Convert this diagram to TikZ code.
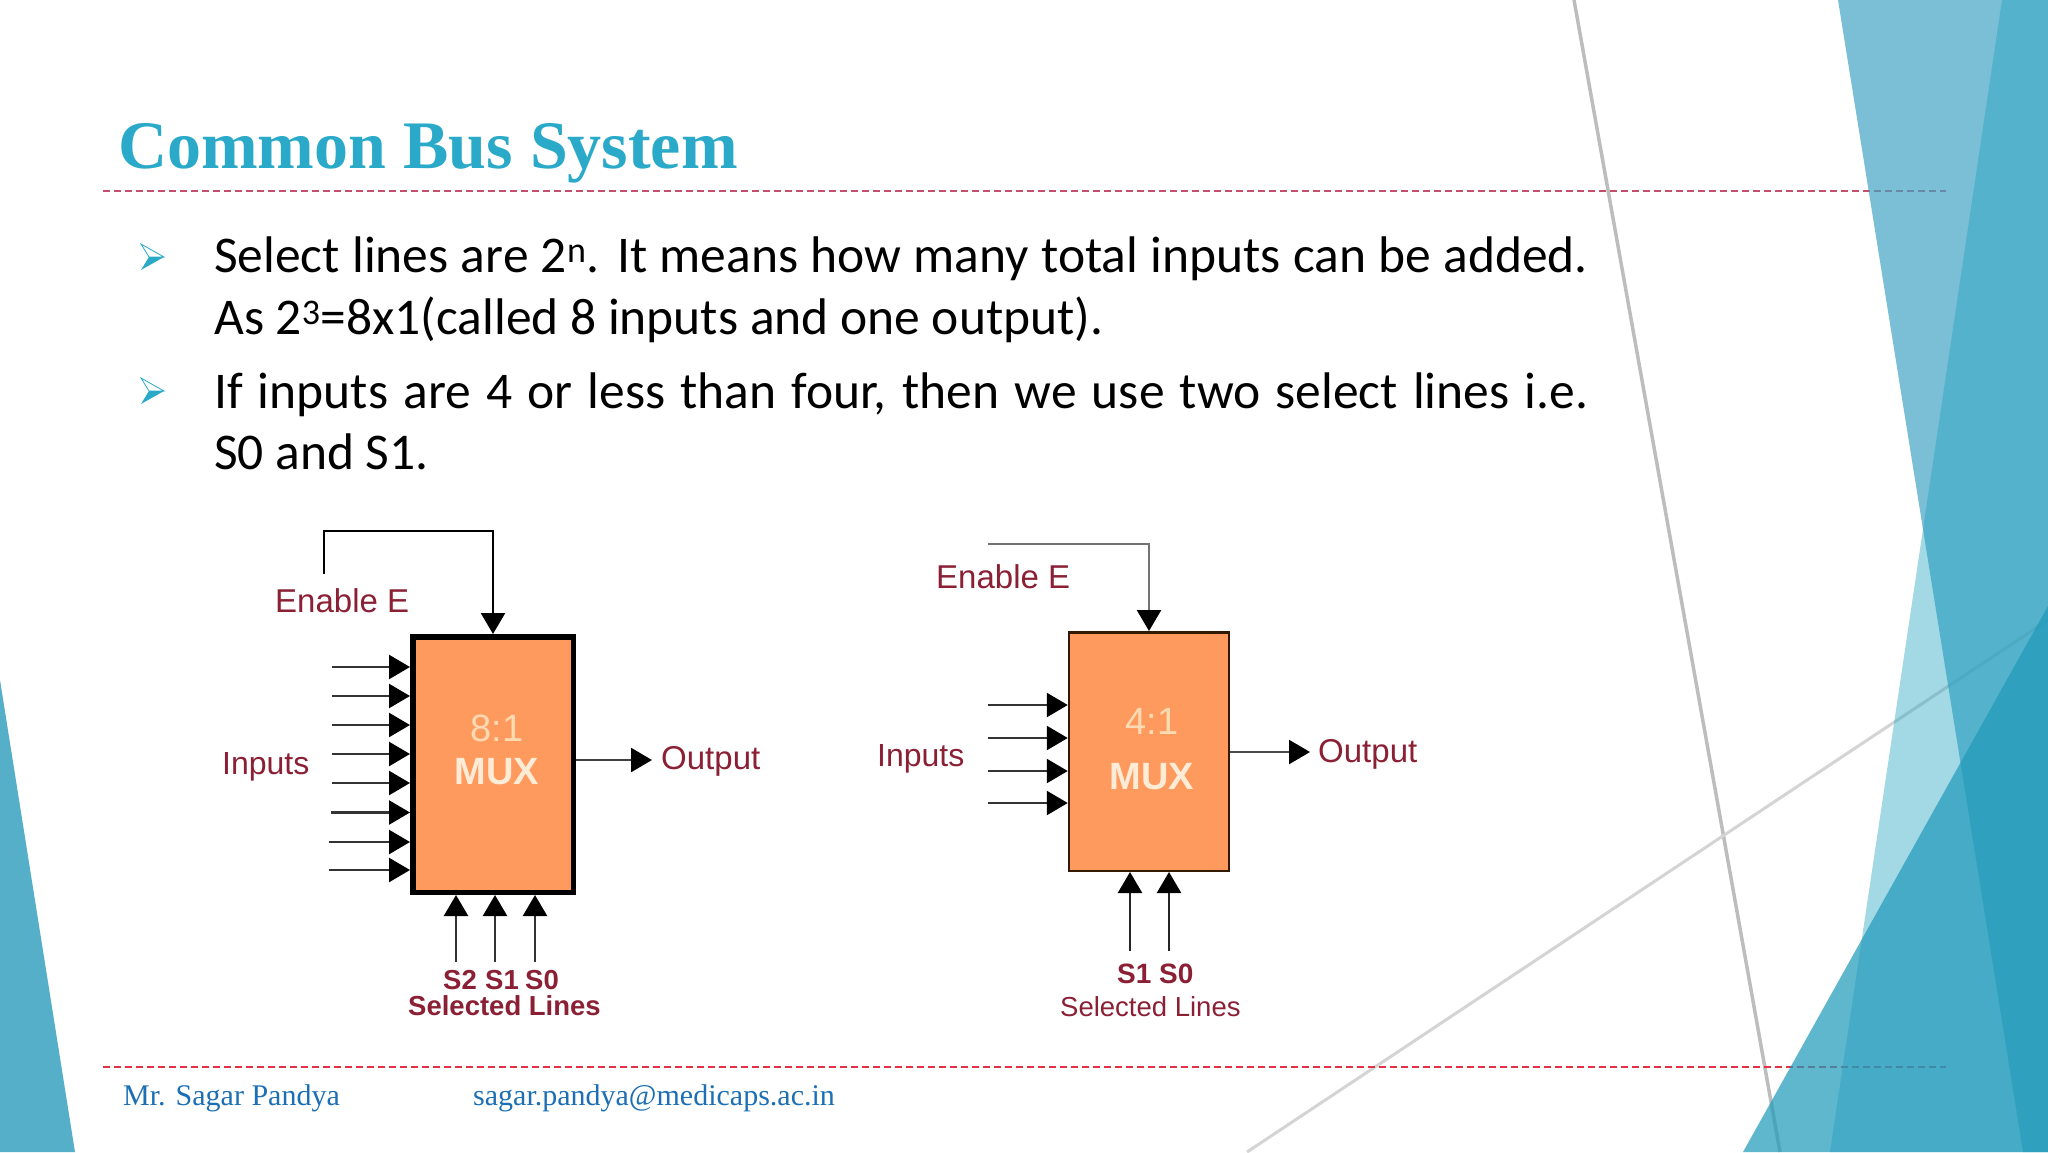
\documentclass[tikz,border=0pt]{standalone}
\usepackage{fontspec}
\setmainfont{Liberation Serif}
\setsansfont{Liberation Sans}
\newfontfamily\bodyfont{Carlito}
\usetikzlibrary{arrows.meta}
\definecolor{titleblue}{HTML}{2AAAC8}
\definecolor{footblue}{HTML}{1C6FB4}
\definecolor{labelred}{HTML}{8B2035}
\definecolor{muxorange}{HTML}{FF9A5E}
\definecolor{numcream}{HTML}{FCDAB2}
\definecolor{namecream}{HTML}{FFECD6}
\definecolor{dashtop}{HTML}{C44E6C}
\definecolor{dashfoot}{HTML}{E23246}
\definecolor{facetA}{HTML}{42A4C3}
\definecolor{facetB}{HTML}{1FA0C0}
\definecolor{facetC}{HTML}{219BBB}
\definecolor{facetL}{HTML}{55AFC8}
\newcommand{\fullline}[1]{\hbox to 1374pt{#1}}
\tikzset{
  titletxt/.style={anchor=base west, inner sep=0pt, text=titleblue, font=\fontsize{68}{72}\selectfont\bfseries},
  bodytxt/.style={anchor=base west, inner sep=0pt, font=\fontsize{51.5}{56}\bodyfont},
  foottxt/.style={anchor=base west, inner sep=0pt, text=footblue, font=\fontsize{30}{33}\selectfont},
  labeltxt/.style={anchor=base west, inner sep=0pt, text=labelred, font=\fontsize{33}{36}\sffamily},
  seltxt/.style={anchor=base west, inner sep=0pt, text=labelred, font=\fontsize{27.5}{30}\sffamily\bfseries},
  muxtxt/.style={anchor=base, inner sep=0pt, text=#1, font=\fontsize{38}{42}\sffamily},
  muxbox/.style={draw=#1, fill=muxorange, inner sep=0pt},
  conn/.style={draw=#1, line width=2.5pt, -{Triangle[length=21pt,width=24pt,color=black]}},
  slide/.style={draw=#1, line width=2pt, dash pattern=on 7pt off 4pt},
}
\begin{document}
\begin{tikzpicture}[x=1pt,y=-1pt]
\useasboundingbox (0,0) rectangle (2048,1152);
%thin grey lines behind the facets
\draw[line width=3.5pt, color=black!26] (1574,0)--(1780,1152);
\draw[line width=3pt, color=black!17] (1247,1152)--(2048,620);
\draw[slide=dashtop] (103,191)--(1946,191);
\draw[slide=dashfoot] (103,1067)--(1946,1067);
%facets
\fill[color=facetA, opacity=0.7] (1838,0)--(2048,0)--(2048,1152)--(2023,1152)--cycle;
\fill[color=facetB, opacity=0.41] (2002,0)--(2048,0)--(2048,1152)--(1830,1152)--cycle;
\fill[color=facetC, opacity=0.72] (2048,606)--(2048,1152)--(1743,1152)--cycle;
\fill[color=facetL] (0,680)--(75,1152)--(0,1152)--cycle;
%title and text
\node[titletxt] (title) at (118,168) {Common Bus System};
\foreach \y in {257,391}{
  \fill[color=titleblue] (141,\y+13)--(164,\y)--(149,\y)--cycle;
  \draw[color=titleblue, line width=0.8pt] (141,\y-13)--(164,\y)--(149,\y)--cycle;
}
\node[bodytxt] (line1) at (214,272) {\fullline{Select lines are 2\textsuperscript{n}. It means how many total inputs can be added.}};
\node[bodytxt] (line2) at (214,334) {As 2\textsuperscript{3}=8x1(called 8 inputs and one output).};
\node[bodytxt] (line3) at (214,408) {\fullline{If inputs are 4 or less than four, then we use two select lines i.e.}};
\node[bodytxt] (line4) at (214,469) {S0 and S1.};
%8:1 mux
\node[muxbox=black, line width=5.5pt, minimum width=160.5pt, minimum height=255.5pt] (mux8) at (493,764.5) {};
\node[muxtxt=numcream] (num8) at (497,741) {8:1};
\node[muxtxt=namecream, font=\fontsize{38}{40}\sffamily\bfseries] (name8) at (497,784) {MUX};
\coordinate (en8) at (324,574);
\coordinate (en8top) at (493,531);
\draw[conn=black] (en8) |- (en8top) -- (mux8.north);
\foreach \i/\y/\x in {1/667/332,2/696/332,3/725/332,4/754/332,5/783/332,6/812.5/331,7/842/329,8/870/329}{
  \coordinate (in8\i) at (\x,\y);
  \draw[conn=black!80] (in8\i) -- (in8\i -| mux8.west);
}
\coordinate (out8) at (652,760);
\draw[conn=black!75] (out8 -| mux8.east) -- (out8);
\foreach \i/\x in {2/456,1/495,0/535}{
  \coordinate (sel8\i) at (\x,962);
  \draw[conn=black!80] (sel8\i) -- (sel8\i |- mux8.south);
}
\node[labeltxt] (en8txt) at (275,612) {Enable E};
\node[labeltxt, font=\fontsize{32}{36}\sffamily] (in8txt) at (222,774) {Inputs};
\node[labeltxt] (out8txt) at (661,769) {Output};
\node[seltxt] (s82) at (443,989) {S2};
\node[seltxt] (s81) at (485,989) {S1};
\node[seltxt] (s80) at (525,989) {S0};
\node[seltxt] (sel8txt) at (408,1015) {Selected Lines};
%4:1 mux
\node[muxbox=black!80!orange, line width=2.5pt, minimum width=160pt, minimum height=238.5pt] (mux4) at (1149,751.5) {};
\node[muxtxt=numcream] (num4) at (1152,734) {4:1};
\node[muxtxt=namecream, font=\fontsize{38}{40}\sffamily\bfseries] (name4) at (1152,789) {MUX};
\coordinate (en4) at (988,544);
\coordinate (en4top) at (1149,544);
\draw[conn=black!55] (en4) -- (en4top) -- (mux4.north);
\foreach \i/\y in {1/705,2/738,3/771,4/803}{
  \coordinate (in4\i) at (988,\y);
  \draw[conn=black!80] (in4\i) -- (in4\i -| mux4.west);
}
\coordinate (out4) at (1310,752);
\draw[conn=black!70] (out4 -| mux4.east) -- (out4);
\foreach \i/\x in {1/1130,0/1169}{
  \coordinate (sel4\i) at (\x,951);
  \draw[conn=black!85] (sel4\i) -- (sel4\i |- mux4.south);
}
\node[labeltxt] (en4txt) at (936,588) {Enable E};
\node[labeltxt, font=\fontsize{32}{36}\sffamily] (in4txt) at (877,766) {Inputs};
\node[labeltxt] (out4txt) at (1318,762) {Output};
\node[seltxt, font=\fontsize{28}{30}\sffamily\bfseries] (s41) at (1117,983) {S1};
\node[seltxt, font=\fontsize{28}{30}\sffamily\bfseries] (s40) at (1159,983) {S0};
\node[seltxt, font=\fontsize{27.5}{30}\sffamily] (sel4txt) at (1060,1016) {Selected Lines};
%footer
\node[foottxt] (author) at (123,1105) {Mr. Sagar Pandya};
\node[foottxt] (mail) at (473,1105) {sagar.pandya@medicaps.ac.in};
\end{tikzpicture}
\end{document}
